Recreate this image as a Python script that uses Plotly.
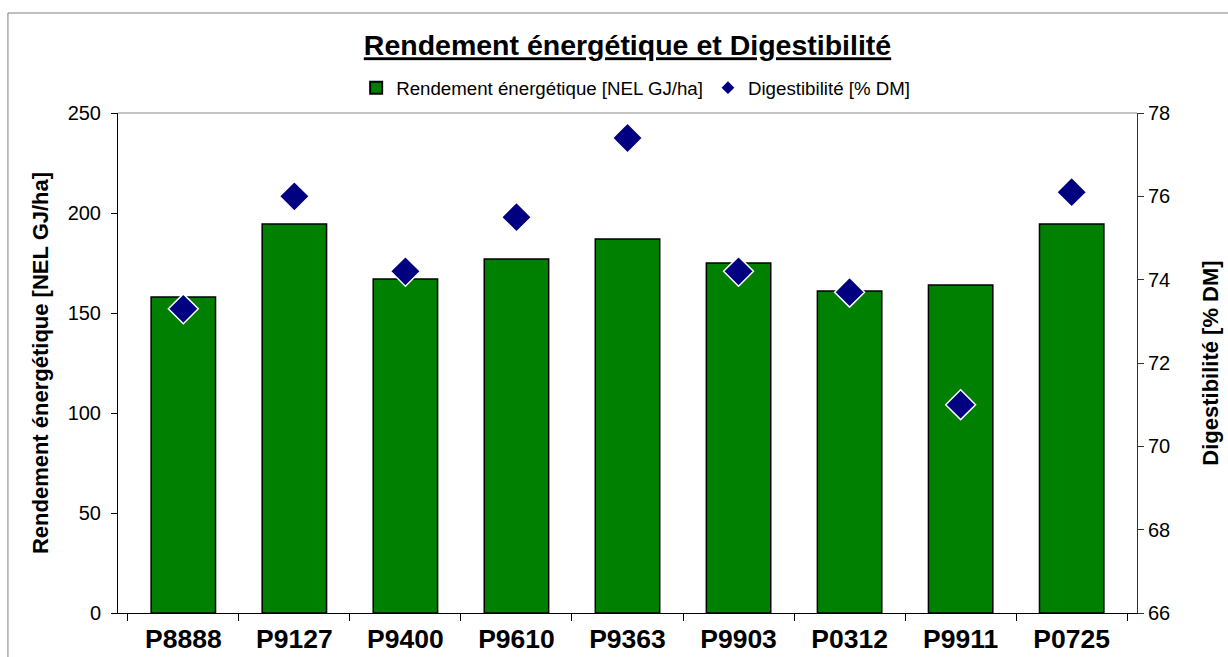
import plotly.graph_objects as go

categories = ["P8888", "P9127", "P9400", "P9610", "P9363", "P9903", "P0312", "P9911", "P0725"]
rendement = [158, 194.5, 167, 177, 187, 175, 161, 164, 194.5]
digestibilite = [73.3, 76.0, 74.2, 75.5, 77.4, 74.2, 73.7, 71.0, 76.1]

FONT = "Liberation Sans, Arial, sans-serif"

fig = go.Figure()
fig.add_trace(go.Bar(
    x=categories, y=rendement, name="Rendement énergétique [NEL GJ/ha]",
    marker=dict(color="#008000", line=dict(color="#000000", width=1.5)),
    yaxis="y",
))
fig.add_trace(go.Scatter(
    x=categories, y=digestibilite, name="Digestibilité [% DM]", mode="markers",
    marker=dict(symbol="diamond", size=23, color="#000080", line=dict(color="#ffffff", width=1.5)),
    yaxis="y2",
))

fig.update_layout(
    width=1228, height=657,
    margin=dict(l=118, r=91, t=113, b=44, autoexpand=False),
    paper_bgcolor="#ffffff", plot_bgcolor="#ffffff",
    font=dict(family=FONT, color="#000000", size=20),
    bargap=0.42,
    showlegend=True,
    title=dict(text="<b><u>Rendement énergétique et Digestibilité</u></b>",
               x=0.5, xref="paper", xanchor="center", y=0.931, yanchor="middle",
               automargin=False,
               font=dict(size=28.5, family=FONT)),
    legend=dict(orientation="h", x=0.508, xanchor="center", y=0.866, yref="container",
                yanchor="middle",
                font=dict(size=18.7, family=FONT), itemsizing="constant", itemwidth=30,
                bgcolor="rgba(0,0,0,0)", tracegroupgap=0),
    xaxis=dict(
        type="category", showline=True, linecolor="#000000", linewidth=1,
        ticks="outside", ticklen=7, tickcolor="#000000", tickson="boundaries",
        tickfont=dict(size=26.5, family=FONT), showgrid=False, zeroline=False,
        tickprefix="<b>", ticksuffix="</b>", automargin=False, ticklabelstandoff=2,
    ),
    yaxis=dict(
        range=[0, 250], dtick=50, showline=True, linecolor="#000000", linewidth=1,
        ticks="outside", ticklen=6, tickcolor="#000000", showgrid=False, zeroline=False,
        tickfont=dict(size=20), automargin=False, ticklabelstandoff=6,
        title=dict(text="<b>Rendement énergétique [NEL GJ/ha]</b>", font=dict(size=22), standoff=12),
    ),
    yaxis2=dict(
        range=[66, 78], dtick=2, overlaying="y", side="right",
        showline=True, linecolor="#333333", linewidth=1,
        ticks="outside", ticklen=6, tickcolor="#333333", showgrid=False, zeroline=False,
        tickfont=dict(size=20), automargin=False,
        title=dict(text="<b>Digestibilité [% DM]</b>", font=dict(size=22), standoff=33),
    ),
    shapes=[
        dict(type="line", xref="paper", yref="paper", x0=0, x1=1, y0=1, y1=1,
             line=dict(color="#888888", width=1)),
        dict(type="rect", xref="paper", yref="paper", x0=-0.108, x1=1.2, y0=-0.2, y1=1.2,
             line=dict(color="#808080", width=1), fillcolor="rgba(0,0,0,0)", layer="below"),
    ],
)

fig.write_html("out.html", config={"displayModeBar": False},
               post_script="document.body.style.margin='0';document.body.style.overflow='hidden';")
